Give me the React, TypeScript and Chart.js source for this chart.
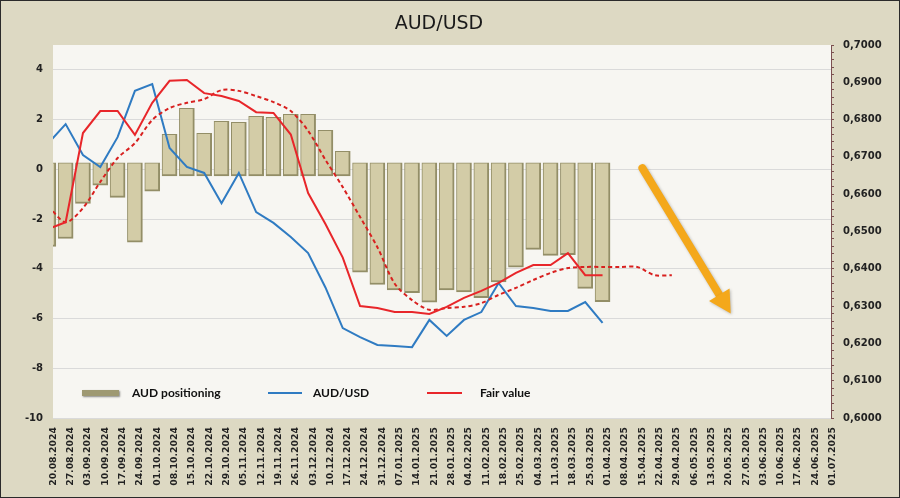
import { useEffect, useRef } from 'react';
import Chart from 'chart.js/auto';

// Weekly dates on the category axis
const DATES = [
  '20.08.2024', '27.08.2024', '03.09.2024', '10.09.2024', '17.09.2024', '24.09.2024',
  '01.10.2024', '08.10.2024', '15.10.2024', '22.10.2024', '29.10.2024', '05.11.2024',
  '12.11.2024', '19.11.2024', '26.11.2024', '03.12.2024', '10.12.2024', '17.12.2024',
  '24.12.2024', '31.12.2024', '07.01.2025', '14.01.2025', '21.01.2025', '28.01.2025',
  '04.02.2025', '11.02.2025', '18.02.2025', '25.02.2025', '04.03.2025', '11.03.2025',
  '18.03.2025', '25.03.2025', '01.04.2025', '08.04.2025', '15.04.2025', '22.04.2025',
  '29.04.2025', '06.05.2025', '13.05.2025', '20.05.2025', '27.05.2025', '03.06.2025',
  '10.06.2025', '17.06.2025', '24.06.2025', '01.07.2025',
];

// AUD positioning (left axis)
const POSITIONING = [
  -3.1, -2.78, -1.37, -0.64, -1.13, -2.93, -0.88, 1.41, 2.45, 1.45, 1.93, 1.89,
  2.13, 2.09, 2.21, 2.21, 1.57, 0.72, -4.14, -4.63, -4.85, -4.96, -5.34, -4.85,
  -4.93, -5.16, -4.53, -3.93, -3.22, -3.46, -3.43, -4.79, -5.32,
];

// AUD/USD spot (right axis)
const AUDUSD = [
  0.6737, 0.6788, 0.6705, 0.6673, 0.6753, 0.6877, 0.6895, 0.6724, 0.6673, 0.6657,
  0.6576, 0.6657, 0.6552, 0.6523, 0.6485, 0.6442, 0.635, 0.6241, 0.6217, 0.6196,
  0.6193, 0.619, 0.6263, 0.622, 0.6263, 0.6284, 0.6362, 0.63, 0.6295, 0.6287,
  0.6287, 0.6311, 0.6255,
];

// Fair value (right axis)
const FAIR_VALUE = [
  0.6507, 0.6525, 0.6764, 0.6823, 0.6823, 0.6759, 0.6845, 0.6904, 0.6906, 0.6871,
  0.6863, 0.685, 0.682, 0.6818, 0.676, 0.6603, 0.652, 0.643, 0.63, 0.6295,
  0.6284, 0.6284, 0.6279, 0.6298, 0.6322, 0.6341, 0.6362, 0.6389, 0.641, 0.641,
  0.6442, 0.6383, 0.6383,
];

// Fair value, smoothed (dashed, right axis)
const FAIR_VALUE_AVG = [
  0.6568, 0.6525, 0.6563, 0.6633, 0.6697, 0.6737, 0.6799, 0.6831, 0.6845, 0.6855,
  0.6879, 0.6877, 0.6863, 0.6847, 0.6823, 0.677, 0.6692, 0.6619, 0.6539, 0.6458,
  0.636, 0.6316, 0.629, 0.6295, 0.6298, 0.6308, 0.633, 0.6349, 0.637, 0.6389,
  0.6402, 0.6405, 0.6405, 0.6405, 0.6405, 0.6383, 0.6383,
];

// Left / right axis ranges
const LEFT_TICKS = [-10, -8, -6, -4, -2, 0, 2, 4];
const RIGHT_MIN = 0.6;
const RIGHT_MAX = 0.7;

// Visible week window (first week sits just left of the plot edge)
const X_MIN = 0.27;
const X_MAX = 45.19;

// Bars start a little past the zero line (bevel look)
const BAR_OVERLAP = 0.26;

// Forecast arrow, in (week index, AUD/USD) terms
const ARROW_FROM = { x: 34.3, y: 0.667 };
const ARROW_TO = { x: 39.4, y: 0.628 };

const BEIGE = '#ddd9c3';
const PLOT_BG = '#f7f6f2';

const plotBackground = {
  id: 'plotBackground',
  beforeDraw(chart: any) {
    const { ctx, chartArea } = chart;
    ctx.save();
    ctx.fillStyle = PLOT_BG;
    ctx.fillRect(chartArea.left, chartArea.top, chartArea.right - chartArea.left, chartArea.bottom - chartArea.top);
    ctx.restore();
  },
};

const arrowPlugin = {
  id: 'arrow',
  afterDatasetsDraw(chart: any) {
    const { ctx, scales } = chart;
    const x1 = scales.x.getPixelForValue(ARROW_FROM.x);
    const y1 = scales.y1.getPixelForValue(ARROW_FROM.y);
    const x2 = scales.x.getPixelForValue(ARROW_TO.x);
    const y2 = scales.y1.getPixelForValue(ARROW_TO.y);
    const len = Math.hypot(x2 - x1, y2 - y1);
    const ux = (x2 - x1) / len;
    const uy = (y2 - y1) / len;
    const headLen = 22;
    const headHalf = 12;
    const bx = x2 - ux * headLen;
    const by = y2 - uy * headLen;
    ctx.save();
    ctx.shadowColor = 'rgba(0,0,0,0.25)';
    ctx.shadowBlur = 3;
    ctx.shadowOffsetX = 1;
    ctx.shadowOffsetY = 1;
    ctx.strokeStyle = '#f4a81b';
    ctx.fillStyle = '#f4a81b';
    ctx.lineWidth = 8;
    ctx.lineCap = 'round';
    ctx.beginPath();
    ctx.moveTo(x1, y1);
    ctx.lineTo(bx + ux * 2, by + uy * 2);
    ctx.stroke();
    ctx.beginPath();
    ctx.moveTo(x2, y2);
    ctx.lineTo(bx - uy * headHalf, by + ux * headHalf);
    ctx.lineTo(bx + uy * headHalf, by - ux * headHalf);
    ctx.closePath();
    ctx.fill();
    ctx.restore();
  },
};

export default function App() {
  const chartRef = useRef<HTMLCanvasElement>(null);
  const chartInstance = useRef<Chart | null>(null);

  useEffect(() => {
    document.body.style.margin = '0';
    if (!chartRef.current) return;

    chartInstance.current = new Chart(chartRef.current, {
      type: 'bar',
      data: {
        datasets: [
          {
            type: 'line',
            label: 'AUD/USD',
            data: AUDUSD.map((v, i) => ({ x: i, y: v })),
            yAxisID: 'y1',
            borderColor: '#2f7bc2',
            borderWidth: 2,
            pointRadius: 0,
            order: 1,
          },
          {
            type: 'line',
            label: 'Fair value',
            data: FAIR_VALUE.map((v, i) => ({ x: i, y: v })),
            yAxisID: 'y1',
            borderColor: '#e8262a',
            borderWidth: 2,
            pointRadius: 0,
            order: 0,
          },
          {
            type: 'line',
            label: 'Fair value avg',
            data: FAIR_VALUE_AVG.map((v, i) => ({ x: i, y: v })),
            yAxisID: 'y1',
            borderColor: '#d8201f',
            borderWidth: 2,
            borderDash: [4, 3],
            tension: 0.3,
            pointRadius: 0,
            order: 0,
          },
          {
            type: 'bar',
            label: 'AUD positioning',
            data: POSITIONING.map((v, i) => ({ x: i, y: [v < 0 ? BAR_OVERLAP : -BAR_OVERLAP, v] })),
            yAxisID: 'y',
            backgroundColor: '#d3cca7',
            borderColor: '#938e67',
            borderWidth: { top: 1, left: 1, right: 2, bottom: 2 },
            borderSkipped: false,
            barThickness: 15,
            order: 2,
          },
        ],
      },
      options: {
        animation: false,
        responsive: false,
        layout: { padding: { top: 45, left: 0, right: 0, bottom: 0 } },
        plugins: {
          legend: { display: false },
          title: { display: false },
          tooltip: { enabled: false },
        },
        scales: {
          x: {
            type: 'linear',
            offset: false,
            min: X_MIN,
            max: X_MAX,
            afterBuildTicks: (scale: any) => {
              scale.ticks = DATES.map((_, i) => ({ value: i }));
            },
            afterFit: (scale: any) => {
              scale.height = 80;
            },
            grid: { display: false },
            border: { display: false },
            ticks: {
              autoSkip: false,
              maxRotation: 90,
              minRotation: 90,
              padding: 1,
              labelOffset: 5,
              color: '#222',
              font: { family: 'DejaVu Sans', size: 9.3, weight: 'bold' },
              callback: (_v: any, i: number) => DATES[i],
            },
          },
          y: {
            position: 'left',
            min: -10,
            max: 5,
            afterBuildTicks: (scale: any) => {
              scale.ticks = LEFT_TICKS.map((v) => ({ value: v }));
            },
            afterFit: (scale: any) => {
              scale.width = 53;
            },
            grid: { color: '#dadada', drawTicks: false },
            border: { display: false },
            ticks: {
              padding: 10,
              color: '#222',
              font: { family: 'DejaVu Sans', size: 10, weight: 'bold' },
            },
          },
          y1: {
            position: 'right',
            min: RIGHT_MIN,
            max: RIGHT_MAX,
            afterBuildTicks: (scale: any) => {
              const t = [];
              for (let k = 0; k <= 50; k++) t.push({ value: Math.round((RIGHT_MIN + k * 0.002) * 10000) / 10000 });
              scale.ticks = t;
            },
            afterFit: (scale: any) => {
              scale.width = 69;
            },
            grid: { drawOnChartArea: false, tickLength: 3, tickColor: '#7b5050' },
            border: { display: true, color: '#7b5050', width: 1 },
            ticks: {
              autoSkip: false,
              padding: 9,
              color: '#222',
              font: { family: 'DejaVu Sans', size: 10, weight: 'bold' },
              callback: (v: any, i: number) => (i % 5 === 0 ? Number(v).toFixed(4).replace('.', ',') : ''),
            },
          },
        },
      },
      plugins: [plotBackground, arrowPlugin],
    } as any);

    return () => {
      if (chartInstance.current) {
        chartInstance.current.destroy();
        chartInstance.current = null;
      }
    };
  }, []);

  const legendText = {
    position: 'absolute' as const,
    top: 385,
    lineHeight: '16px',
    fontFamily: 'Lato, sans-serif',
    fontWeight: 700,
    fontSize: 12,
    color: '#111',
  };

  return (
    <div style={{ position: 'relative', width: 900, height: 498, background: BEIGE, overflow: 'hidden' }}>
      <canvas ref={chartRef} width={900} height={498} style={{ position: 'absolute', left: 0, top: 0 }} />
      <div
        style={{
          position: 'absolute', left: 0, width: 878, top: 10, height: 24, lineHeight: '24px',
          textAlign: 'center', fontFamily: 'DejaVu Sans, sans-serif', fontSize: 19, color: '#1a1a1a',
        }}
      >
        AUD/USD
      </div>
      {/* Legend */}
      <div style={{ position: 'absolute', left: 82, top: 390, width: 37, height: 6, background: '#9e9972', boxShadow: '1px 1px 2px rgba(0,0,0,0.45)' }} />
      <div style={{ ...legendText, left: 132 }}>AUD positioning</div>
      <div style={{ position: 'absolute', left: 268, top: 392, width: 34, height: 2, background: '#2f7bc2' }} />
      <div style={{ ...legendText, left: 313 }}>AUD/USD</div>
      <div style={{ position: 'absolute', left: 427, top: 392, width: 35, height: 2, background: '#e8262a' }} />
      <div style={{ ...legendText, left: 480 }}>Fair value</div>
      <div style={{ position: 'absolute', inset: 0, border: '1px solid #2a2a2a', pointerEvents: 'none' }} />
    </div>
  );
}
